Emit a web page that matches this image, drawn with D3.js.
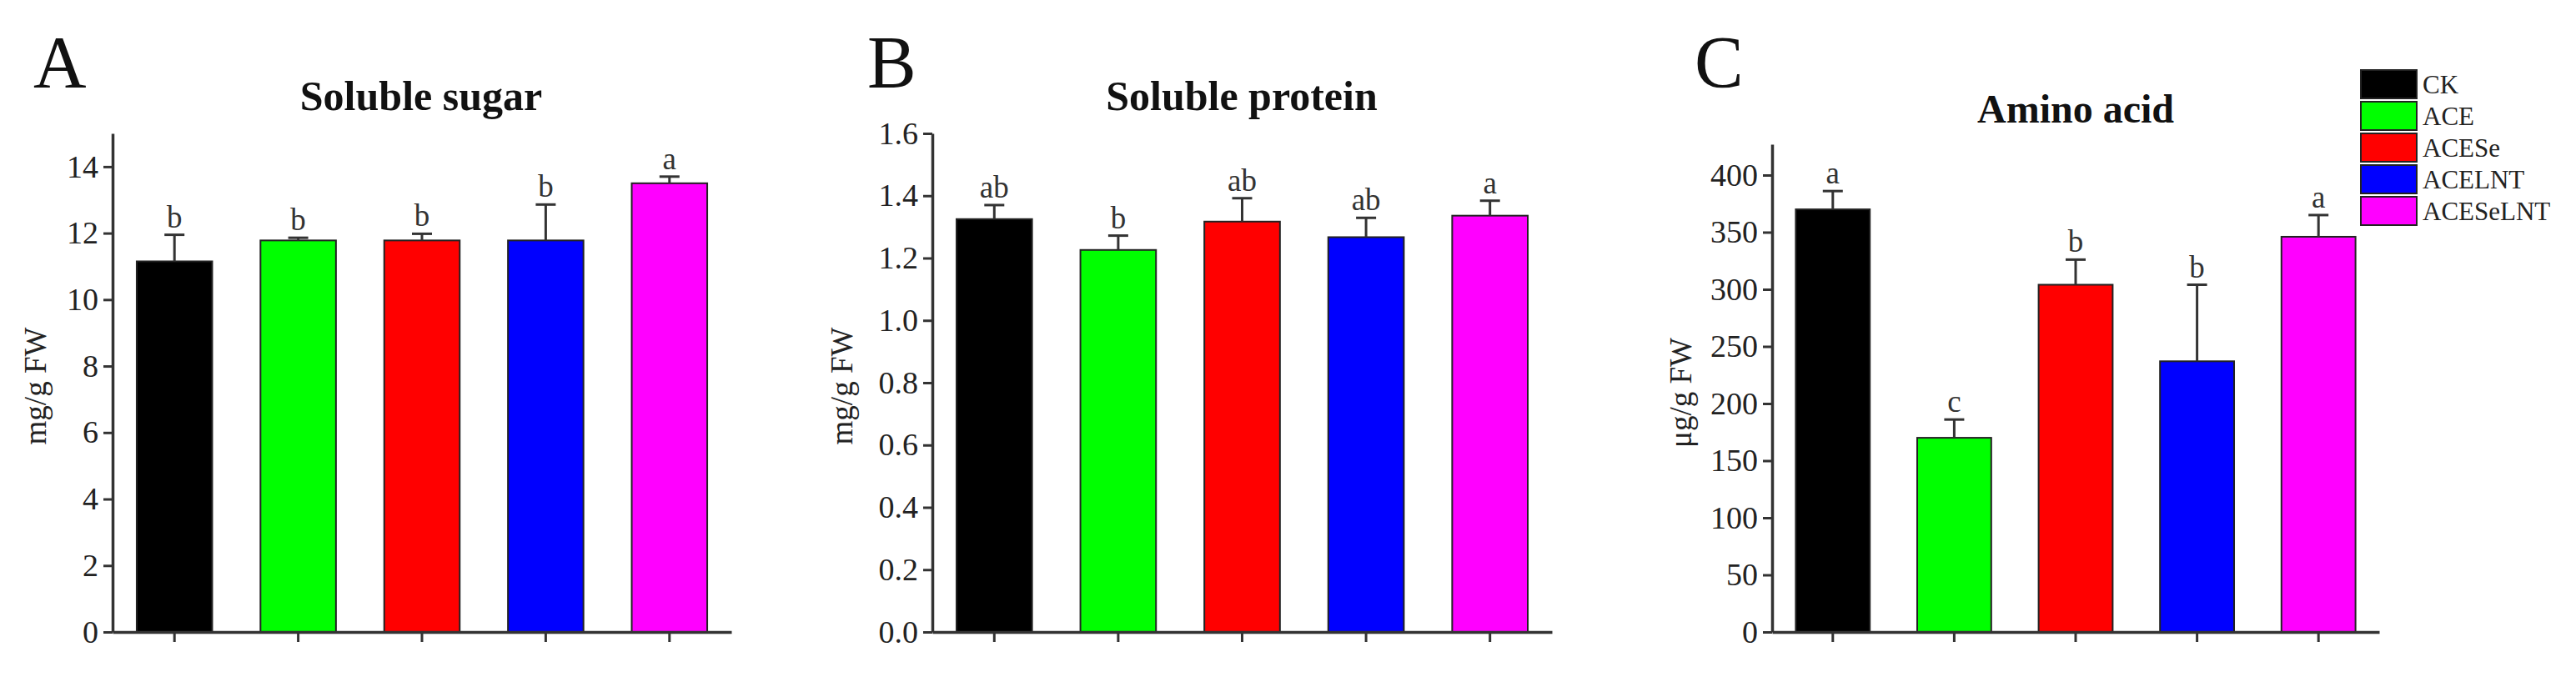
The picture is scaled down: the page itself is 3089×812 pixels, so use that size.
<!DOCTYPE html>
<html>
<head>
<meta charset="utf-8">
<script src="https://cdn.jsdelivr.net/npm/d3@7"></script>
<style>
  body { margin: 0; background: #fff; }
  svg text { font-family: "Liberation Serif", "Times New Roman", serif; }
</style>
</head>
<body>
<div id="chart"></div>
<script>
const WIDTH = 3089;
const HEIGHT = 812;

// data
const groups = ["CK", "ACE", "ACESe", "ACELNT", "ACESeLNT"];
const colors = ["#000000", "#00ff00", "#ff0000", "#0000ff", "#ff00ff"];

const sugar = [11.15, 11.78, 11.78, 11.78, 13.5];
const sugarErr = [0.8, 0.08, 0.2, 1.08, 0.2];
const sugarLetters = ["b", "b", "b", "b", "a"];
const sugarTicks = [0, 2, 4, 6, 8, 10, 12, 14];

const protein = [1.325, 1.226, 1.317, 1.267, 1.336];
const proteinErr = [0.045, 0.046, 0.075, 0.062, 0.048];
const proteinLetters = ["ab", "b", "ab", "ab", "a"];
const proteinTicks = [0, 0.2, 0.4, 0.6, 0.8, 1.0, 1.2, 1.4, 1.6];

const amino = [370, 170, 304, 237, 346];
const aminoErr = [16, 16, 22, 67, 19];
const aminoLetters = ["a", "c", "b", "b", "a"];
const aminoTicks = [0, 50, 100, 150, 200, 250, 300, 350, 400];

const svg = d3.select("#chart")
  .append("svg")
    .attr("width", WIDTH)
    .attr("height", HEIGHT);

const Y0 = 758;
const AXIS_COLOR = "#333";

function drawPanel(p) {
  const g = svg.append("g");

  const x = d3.scaleBand()
    .domain(groups)
    .range([p.left, p.right])
    .paddingInner(0.39)
    .paddingOuter(0.195);

  const y = d3.scaleLinear()
    .domain([0, p.max])
    .range([Y0, p.top]);

  // bars
  g.selectAll(".bar")
    .data(p.values)
    .enter()
    .append("rect")
      .attr("x", (d, i) => x(groups[i]))
      .attr("y", d => y(d))
      .attr("width", x.bandwidth())
      .attr("height", d => Y0 - y(d))
      .attr("fill", (d, i) => colors[i])
      .attr("stroke", "#222")
      .attr("stroke-width", 2);

  // error bars (upper only)
  const cx = i => x(groups[i]) + x.bandwidth() / 2;
  g.selectAll(".err")
    .data(p.values)
    .enter()
    .append("line")
      .attr("x1", (d, i) => cx(i))
      .attr("x2", (d, i) => cx(i))
      .attr("y1", d => y(d))
      .attr("y2", (d, i) => y(d + p.err[i]))
      .attr("stroke", AXIS_COLOR)
      .attr("stroke-width", 3);
  g.selectAll(".cap")
    .data(p.values)
    .enter()
    .append("line")
      .attr("x1", (d, i) => cx(i) - 12)
      .attr("x2", (d, i) => cx(i) + 12)
      .attr("y1", (d, i) => y(d + p.err[i]))
      .attr("y2", (d, i) => y(d + p.err[i]))
      .attr("stroke", AXIS_COLOR)
      .attr("stroke-width", 3);

  // significance letters
  g.selectAll(".sig")
    .data(p.letters)
    .enter()
    .append("text")
      .attr("x", (d, i) => cx(i))
      .attr("y", (d, i) => y(p.values[i] + p.err[i]) - 9)
      .attr("text-anchor", "middle")
      .attr("font-size", 37)
      .attr("fill", "#333")
      .text(d => d);

  // axes
  const yAxis = g.append("g")
    .attr("transform", `translate(${p.left},0)`)
    .call(d3.axisLeft(y).tickValues(p.ticks).tickFormat(p.fmt).tickSize(11).tickSizeOuter(0).tickPadding(6));
  const xAxis = g.append("g")
    .attr("transform", `translate(0,${Y0})`)
    .call(d3.axisBottom(x).tickFormat("").tickSize(12).tickSizeOuter(0));

  [yAxis, xAxis].forEach(a => {
    a.select(".domain").attr("stroke", AXIS_COLOR).attr("stroke-width", 3.5);
    a.selectAll(".tick line").attr("stroke", AXIS_COLOR).attr("stroke-width", 3);
    a.selectAll(".tick text")
      .attr("font-size", 38)
      .attr("font-family", "Liberation Serif, serif")
      .attr("fill", "#222");
  });

  // y label
  g.append("text")
    .attr("transform", `translate(${p.labelX},${p.labelY}) rotate(-90)`)
    .attr("text-anchor", "middle")
    .attr("font-size", 37)
    .attr("fill", "#222")
    .text(p.ylabel);

  // title
  g.append("text")
    .attr("x", p.titleX)
    .attr("y", p.titleY)
    .attr("text-anchor", "middle")
    .attr("font-size", p.titleSize)
    .attr("font-weight", "bold")
    .attr("fill", "#111")
    .text(p.title);

  // panel letter
  g.append("text")
    .attr("x", p.tagX)
    .attr("y", 104)
    .attr("font-size", 88)
    .attr("fill", "#111")
    .text(p.tag);
}

drawPanel({
  left: 135, right: 877, top: 160, max: 15,
  values: sugar, err: sugarErr, letters: sugarLetters,
  ticks: sugarTicks, fmt: d3.format("d"),
  ylabel: "mg/g FW", labelX: 55, labelY: 463,
  title: "Soluble sugar", titleX: 505, titleY: 132, titleSize: 50,
  tag: "A", tagX: 40
});

drawPanel({
  left: 1118, right: 1861, top: 160, max: 1.6,
  values: protein, err: proteinErr, letters: proteinLetters,
  ticks: proteinTicks, fmt: d3.format(".1f"),
  ylabel: "mg/g FW", labelX: 1022, labelY: 463,
  title: "Soluble protein", titleX: 1489, titleY: 132, titleSize: 50,
  tag: "B", tagX: 1040
});

drawPanel({
  left: 2125, right: 2853, top: 173, max: 427,
  values: amino, err: aminoErr, letters: aminoLetters,
  ticks: aminoTicks, fmt: d3.format("d"),
  ylabel: "\u03bcg/g FW", labelX: 2028, labelY: 471,
  title: "Amino acid", titleX: 2489, titleY: 147, titleSize: 48,
  tag: "C", tagX: 2032
});

// legend
const legend = svg.append("g").attr("transform", "translate(2831,84)");
legend.selectAll("rect")
  .data(groups)
  .enter()
  .append("rect")
    .attr("x", 0)
    .attr("y", (d, i) => i * 38)
    .attr("width", 67)
    .attr("height", 34)
    .attr("fill", (d, i) => colors[i])
    .attr("stroke", "#222")
    .attr("stroke-width", 2);
legend.selectAll("text")
  .data(groups)
  .enter()
  .append("text")
    .attr("x", 74)
    .attr("y", (d, i) => i * 38 + 28)
    .attr("font-size", 31)
    .attr("fill", "#222")
    .text(d => d);
</script>
</body>
</html>
